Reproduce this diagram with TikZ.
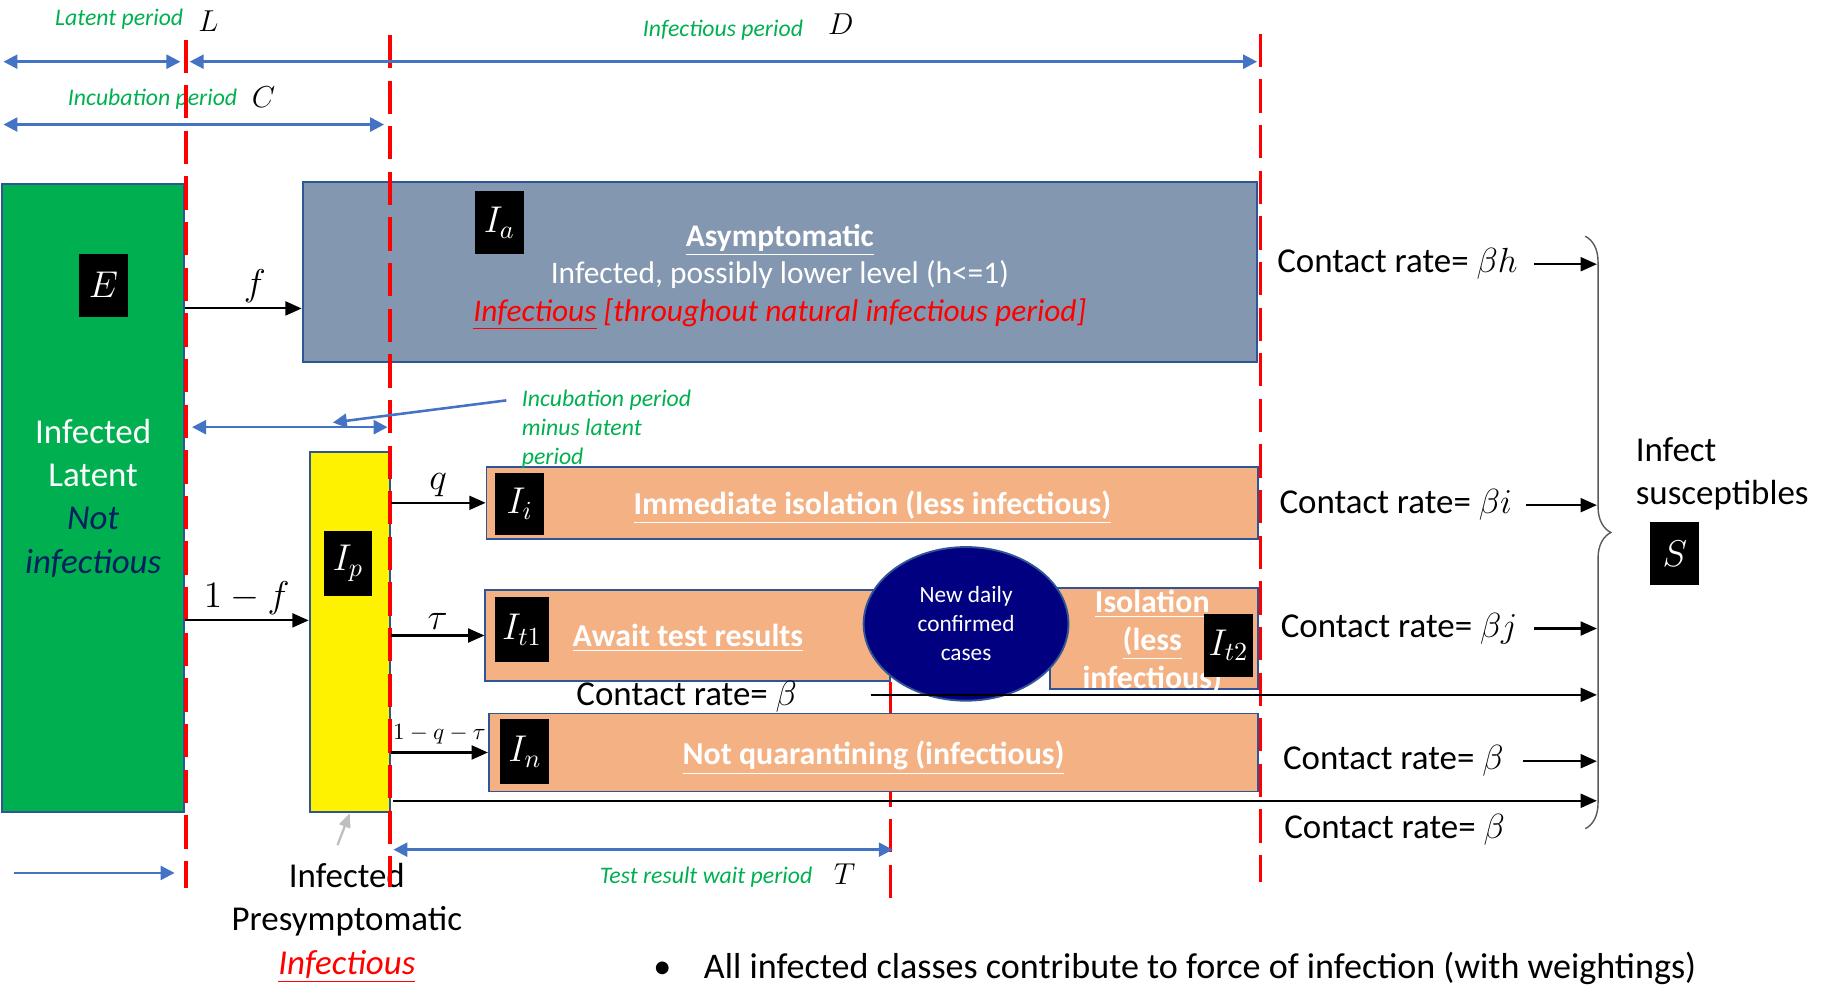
\RequirePackage{fix-cm}
\documentclass[tikz,border=0pt]{standalone}
\usepackage{fontspec}
\setmainfont{Carlito}
\usepackage{xcolor}
\usepackage{tikz}
\usetikzlibrary{arrows.meta, positioning, calc, shapes.geometric, decorations.pathreplacing}
\definecolor{exgreen}{HTML}{00B050}
\definecolor{navytxt}{HTML}{002060}
\definecolor{edgeblue}{HTML}{2F5597}
\definecolor{asgray}{HTML}{8497B0}
\definecolor{peach}{HTML}{F4B183}
\definecolor{perblue}{HTML}{4472C4}
\definecolor{pergreen}{HTML}{00B050}
\definecolor{casenavy}{HTML}{000080}
\definecolor{hintgray}{HTML}{BFBFBF}
\definecolor{dkgray}{HTML}{595959}
\definecolor{phasered}{HTML}{FF0000}
\tikzset{
    compbox/.style={
        draw=edgeblue, line width=0.8pt, inner sep=0pt,
        align=center, text=white,
    },
    boxtext/.style={
        font=\fontsize{13.7}{16.25}\selectfont\bfseries,
    },
    classlbl/.style={
        fill=black, text=white, inner sep=0pt,
        minimum width=21pt, minimum height=27pt,
        font=\fontsize{16}{19}\selectfont,
    },
    flow/.style={
        -{Triangle[length=7pt, width=6pt]}, line width=0.9pt, black,
    },
    periodarr/.style={
        {Triangle[length=6pt, width=6pt]}-{Triangle[length=6pt, width=6pt]},
        perblue, line width=1.1pt,
    },
    periodone/.style={
        -{Triangle[length=6pt, width=6pt]}, perblue, line width=1.1pt,
    },
    phase/.style={
        phasered, line width=1.5pt, dash pattern=on 14.3pt off 5.3pt,
    },
    periodtxt/.style={
        font=\fontsize{10.2}{12.5}\selectfont\itshape\color{pergreen}, inner sep=0pt,
    },
    periodsym/.style={
        font=\fontsize{13}{15}\selectfont, inner sep=0pt,
    },
    ratetxt/.style={
        font=\fontsize{15}{18.5}\selectfont, inner sep=0pt,
    },
    ratelbl/.style={
        font=\fontsize{16}{19}\selectfont, inner sep=1pt,
    },
}

\begin{document}
\begin{tikzpicture}[x=0.5pt, y=-0.5pt]
\useasboundingbox (0,0) rectangle (1568,848);

% test-wait boundary, lies under the boxes
\draw[phase] (765,586) -- (765,778);

% ═══ COMPARTMENTS ═══
\node[compbox, fill=exgreen, minimum width=78pt, minimum height=270pt,
      font=\fontsize{15}{18.6}\selectfont] (E) at (80,428)
    {Infected\\Latent\\{\itshape\color{navytxt}Not}\\{\itshape\color{navytxt}infectious}};

\node[compbox, fill=asgray, minimum width=410pt, minimum height=77.5pt] (Ia) at (670,233.5) {};
\node[align=center, text=white, font=\fontsize{13.5}{16.25}\selectfont] (IaTxt) at (670,238)
    {\underline{\textbf{Asymptomatic}}\\Infected, possibly lower level (h<=1)\\
     {\color{phasered}\itshape\underline{Infectious} [throughout natural infectious period]}};

\node[compbox, fill=yellow, minimum width=34.5pt, minimum height=155pt] (Ip) at (300.5,543) {};

\node[compbox, boxtext, text depth=0pt, fill=peach, minimum width=331.5pt, minimum height=31pt] (Ii) at (749.5,432)
    {\underline{Immediate isolation (less infectious)}};
\node[compbox, boxtext, text depth=0pt, fill=peach, minimum width=174pt, minimum height=39pt] (It1) at (591,546)
    {\underline{Await test results}};
\node[compbox, fill=peach, minimum width=89.5pt, minimum height=43.5pt] (It2) at (991.5,548.5) {};
\begin{scope}
\clip (It2.south west) rectangle (It2.north east);
\node[boxtext, text=white, align=center] (It2txt) at (990,553.5)
    {\underline{Isolation}\\\underline{(less}\\\underline{infectious)}};
\end{scope}
\node[compbox, boxtext, text depth=0pt, fill=peach, minimum width=330.5pt, minimum height=33.5pt] (In) at (750.5,646.5)
    {\underline{Not quarantining (infectious)}};

% Presymptomatic caption
\node[font=\fontsize{15}{18.75}\selectfont, align=center] (preTxt) at (298,793)
    {Infected\\Presymptomatic\\{\color{phasered}\itshape\underline{Infectious}}};

% ═══ PERIOD LABELS ═══
\node[periodtxt, anchor=base west] (latTxt) at (47,22) {Latent period};
\node[periodsym, anchor=base west] (latSym) at (170,27) {$L$};
\node[periodtxt, anchor=base west] (infTxt) at (552,31) {Infectious period};
\node[periodsym, anchor=base west] (infSym) at (711,30) {$D$};
\node[periodtxt, anchor=base west] (incTxt) at (58,91) {Incubation period};
\node[periodsym, anchor=base west] (incSym) at (216,92) {$C$};
\node[periodtxt, anchor=base west] (testTxt) at (515,759) {Test result wait period};
\node[periodsym, anchor=base west] (testSym) at (716,760) {$T$};
\node[periodtxt, anchor=west, align=left] (incMinus) at (448,369)
    {Incubation period\\minus latent\\period};

% ═══ PHASE BOUNDARIES (red dashed) ═══
\draw[phase] (160,34) -- (160,763);
\draw[phase] (335,30) -- (335,762);
\draw[phase] (1083,29) -- (1083,758);

% New daily confirmed cases
\node[ellipse, draw=edgeblue, line width=0.8pt, fill=casenavy, minimum width=88pt,
      minimum height=66pt, inner sep=0pt, text=white, align=center,
      font=\fontsize{10}{12.5}\selectfont] (cases) at (830,536)
    {New daily\\confirmed\\cases};

% Class labels
\node[classlbl] (Elbl) at (89,245) {$E$};
\node[classlbl] (Ialbl) at (429,191.5) {$I_a$};
\node[classlbl, minimum height=28pt] (Iplbl) at (299,484) {$I_p$};
\node[classlbl] (Iilbl) at (446.5,433) {$I_i$};
\node[classlbl, minimum width=23.5pt, minimum height=28pt] (It1lbl) at (448.5,541) {$I_{t1}$};
\node[classlbl] (It2lbl) at (1055.5,554.5) {$I_{t2}$};
\node[classlbl, minimum height=28pt] (Inlbl) at (451,646) {$I_n$};
\node[classlbl] (Slbl) at (1439,475.5) {$S$};

% ═══ TRANSITIONS ═══
\coordinate (fy) at (0,265);
\coordinate (nfy) at (0,533);
\draw[flow] (E.east |- fy) -- (Ia.west |- fy) node[pos=0.6, above=1pt, ratelbl] {$f$};
\draw[flow] (E.east |- nfy) -- (Ip.west |- nfy) node[midway, above=1pt, ratelbl] {$1-f$};
\draw[flow] (Ip.east |- Ii.west) -- (Ii.west) node[midway, above=1pt, ratelbl] {$q$};
\draw[flow] (Ip.east |- It1.west) -- (It1.west) node[midway, above=1pt, ratelbl] {$\tau$};
\draw[flow] (Ip.east |- In.west) -- (In.west)
    node[midway, above=3pt, inner sep=0pt, font=\fontsize{10}{12}\selectfont] {$1-q-\tau$};

% ═══ CONTACT RATES ═══
\coordinate (spine) at (1372,458);
\coordinate (braceTop) at (1362,203);
\coordinate (braceBot) at (1362,712);
\draw[dkgray, line width=0.6pt, decorate, decoration={brace, amplitude=11pt}] (braceTop) -- (braceBot);

\node[ratetxt, anchor=west] (crh) at (1097,227) {Contact rate= $\beta h$};
\node[ratetxt, anchor=west] (cri) at (1099,434) {Contact rate= $\beta i$};
\node[ratetxt, anchor=west] (crj) at (1100,540) {Contact rate= $\beta j$};
\node[ratetxt, anchor=west] (crn) at (1102,654) {Contact rate= $\beta$};
\node[ratetxt, anchor=west] (crb) at (1103,713) {Contact rate= $\beta$};
\node[ratetxt] (crt) at (590,599) {Contact rate= $\beta$};

\draw[flow] ([xshift=7pt]crh.east) -- (crh.east -| spine);
\draw[flow] ([xshift=6pt]cri.east) -- (cri.east -| spine);
\draw[flow] ([xshift=7pt]crj.east) -- (crj.east -| spine);
\draw[flow] ([xshift=8pt]crn.east) -- (crn.east -| spine);

\coordinate (crtStart) at (748,597);
\coordinate (botStart) at (338,688);
\draw[flow] (crtStart) -- (crtStart -| spine);
\draw[flow] (botStart) -- (botStart -| spine);

\node[ratetxt, anchor=west, align=left] (infS) at (1405,407) {Infect\\susceptibles};

% ═══ PERIOD ARROWS ═══
\coordinate (latA) at (3,53);    \coordinate (latB) at (155,53);
\coordinate (infA) at (163,53);  \coordinate (infB) at (1080,53);
\coordinate (incA) at (3,107);   \coordinate (incB) at (330,107);
\coordinate (minA) at (165,367); \coordinate (minB) at (333,367);
\coordinate (ptrA) at (435,344); \coordinate (ptrB) at (286,363);
\coordinate (testA) at (338,730); \coordinate (testB) at (767,730);
\coordinate (botA) at (12,750);  \coordinate (botB) at (150,750);

\draw[periodarr] (latA) -- (latB);
\draw[periodarr] (infA) -- (infB);
\draw[periodarr] (incA) -- (incB);
\draw[periodarr] (minA) -- (minB);
\draw[periodone] (ptrA) -- (ptrB);
\draw[periodarr] (testA) -- (testB);
\draw[periodone] (botA) -- (botB);

% Pointer to presymptomatic box
\coordinate (grayA) at (290,726);
\draw[-{Triangle[length=6pt, width=5pt]}, hintgray, line width=1pt] (grayA) -- (Ip.south);

% ═══ NOTE ═══
\node[font=\fontsize{15.5}{18}\selectfont, anchor=west, inner sep=0pt] (note) at (561,832)
    {\textbullet\hspace{14pt}All infected classes contribute to force of infection (with weightings)};

\end{tikzpicture}
\end{document}
